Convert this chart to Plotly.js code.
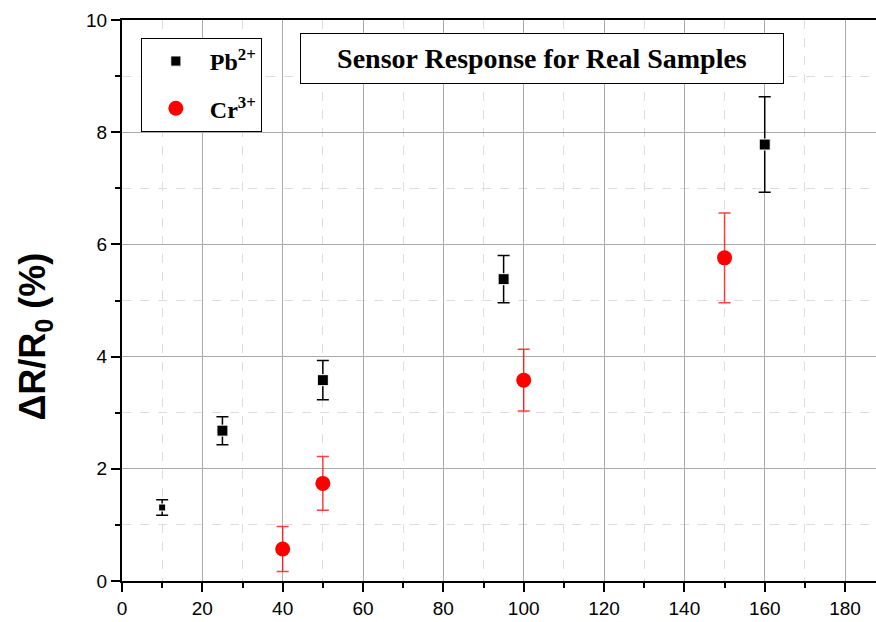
<!DOCTYPE html>
<html>
<head>
<meta charset="utf-8">
<script src="https://cdn.plot.ly/plotly-3.0.1.min.js"></script>
<style>html,body{margin:0;padding:0;background:#fff;}#chart{width:876px;height:622px;}</style>
</head>
<body>
<div id="chart"></div>
<script>
// Data
const pbX = [10, 25, 50, 95, 160];
const pbY = [1.31, 2.68, 3.58, 5.38, 7.78];
const pbErr = [0.14, 0.25, 0.35, 0.42, 0.85];
const pbSize = [7, 11, 11, 11, 11];

const crX = [40, 50, 100, 150];
const crY = [0.57, 1.74, 3.58, 5.76];
const crErr = [0.40, 0.48, 0.55, 0.80];

const xTicks = [0, 20, 40, 60, 80, 100, 120, 140, 160, 180];
const yTicks = [0, 2, 4, 6, 8, 10];

const serif = "Liberation Serif, DejaVu Serif, serif";
const sans = "Liberation Sans, Arial, sans-serif";

const traces = [
  {
    x: pbX, y: pbY, type: 'scatter', mode: 'markers', name: 'Pb<sup>2+</sup>',
    legendgroup: 'pb',
    marker: {symbol: 'square', color: '#000', size: pbSize, opacity: 1},
    error_y: {type: 'data', array: pbErr, visible: true, color: '#000', thickness: 1.5, width: 6}
  },
  {
    x: crX, y: crY, type: 'scatter', mode: 'markers', name: 'Cr<sup>3+</sup>',
    legendgroup: 'cr',
    marker: {symbol: 'circle', color: '#ff0000', size: 15, opacity: 1},
    error_y: {type: 'data', array: crErr, visible: true, color: 'rgba(255,0,0,0.75)', thickness: 1.5, width: 6}
  }
];

const layout = {
  width: 876, height: 622,
  margin: {l: 122, r: 0, t: 20, b: 41},
  paper_bgcolor: '#fff', plot_bgcolor: '#fff',
  showlegend: true,
  legend: {
    x: 0.025, y: 0.968, xanchor: 'left', yanchor: 'top',
    bordercolor: '#000', borderwidth: 1, bgcolor: '#fff',
    traceorder: 'grouped', tracegroupgap: 13, itemwidth: 58,
    font: {family: serif, size: 24, color: '#000', weight: 'bold'}
  },
  xaxis: {
    range: [0, 187.7],
    tickmode: 'array', tickvals: xTicks,
    showline: true, linecolor: '#000', linewidth: 2, mirror: true,
    ticks: 'outside', ticklen: 9, tickwidth: 2, tickcolor: '#000',
    showgrid: true, gridcolor: '#aaaaaa', gridwidth: 1,
    minor: {dtick: 10, tick0: 0, ticks: 'outside', ticklen: 5, tickwidth: 2, tickcolor: '#000',
            showgrid: true, gridcolor: '#dddddd', griddash: 'dash', gridwidth: 1},
    zeroline: false,
    tickfont: {family: sans, size: 19, color: '#000'}
  },
  yaxis: {
    range: [0, 10],
    tickmode: 'array', tickvals: yTicks,
    showline: true, linecolor: '#000', linewidth: 2,
    ticks: 'outside', ticklen: 9, tickwidth: 2, tickcolor: '#000',
    showgrid: true, gridcolor: '#aaaaaa', gridwidth: 1,
    minor: {dtick: 1, tick0: 0, ticks: 'outside', ticklen: 5, tickwidth: 2, tickcolor: '#000',
            showgrid: true, gridcolor: '#dddddd', griddash: 'dash', gridwidth: 1},
    zeroline: false,
    tickfont: {family: sans, size: 19, color: '#000'}
  },
  annotations: [
    {
      xref: 'paper', yref: 'paper', x: 0.557, y: 0.932, xanchor: 'center', yanchor: 'middle',
      text: '<b>Sensor Response for Real Samples</b>', showarrow: false,
      font: {family: serif, size: 28, color: '#000'},
      bordercolor: '#000', borderwidth: 1, borderpad: 8, bgcolor: '#fff',
      width: 466, height: 33
    },
    {
      xref: 'paper', yref: 'paper', x: -0.1154, y: 0.4357, xanchor: 'center', yanchor: 'middle',
      text: '<b>ΔR/R<sub>0</sub> (%)</b>', showarrow: false, textangle: -90,
      font: {family: sans, size: 36, color: '#000'}
    }
  ]
};

Plotly.newPlot('chart', traces, layout, {displayModeBar: false, staticPlot: true});
</script>
</body>
</html>
